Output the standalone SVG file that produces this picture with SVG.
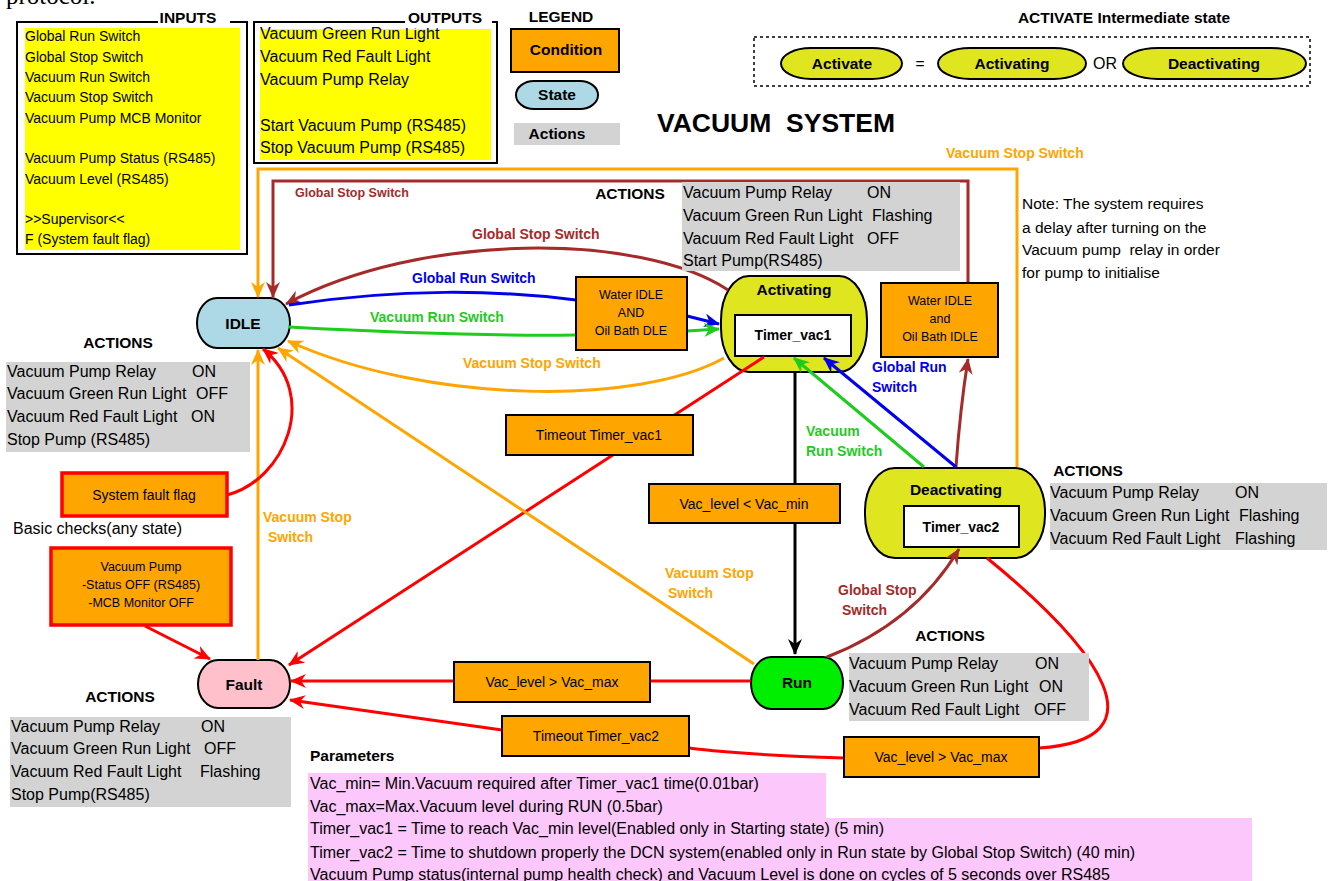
<svg xmlns="http://www.w3.org/2000/svg" width="1331" height="881" viewBox="0 0 1331 881">
<defs>
<style>
text{font-family:"Liberation Sans",Arial,sans-serif;font-size:16px;fill:#000;dominant-baseline:central;white-space:pre}
.b{font-weight:bold}
.m{text-anchor:middle}
.s14{font-size:14px}
.s12{font-size:12.5px}
.s15{font-size:15.5px}
.cond{fill:#ffa500;stroke:#000;stroke-width:2}
.rcond{fill:#ffa500;stroke:#f00;stroke-width:3.5}
.grey{fill:#d3d3d3}
.yel{fill:#ffff00}
.act{fill:#dfe51f;stroke:#000;stroke-width:2}
.inner{fill:#fff;stroke:#000;stroke-width:2}
.c{fill:none;stroke-width:3}
.br{stroke:#a52a2a}.bl{stroke:#0000ee}.gr{stroke:#1ecc1e}.or{stroke:#ffa500}.rd{stroke:#ff0000}.bk{stroke:#000}
.lbr{fill:#a52a2a}.lbl{fill:#0000ee}.lgr{fill:#1ecc1e}.lor{fill:#ffa500}
</style>
<marker id="aBr" viewBox="0 0 16 14" refX="15" refY="7" markerWidth="16" markerHeight="14" orient="auto" markerUnits="userSpaceOnUse"><path d="M0,0 L16,7 L0,14 L5,7 z" fill="#a52a2a"/></marker>
<marker id="aBl" viewBox="0 0 16 14" refX="15" refY="7" markerWidth="16" markerHeight="14" orient="auto" markerUnits="userSpaceOnUse"><path d="M0,0 L16,7 L0,14 L5,7 z" fill="#0000ee"/></marker>
<marker id="aGr" viewBox="0 0 16 14" refX="15" refY="7" markerWidth="16" markerHeight="14" orient="auto" markerUnits="userSpaceOnUse"><path d="M0,0 L16,7 L0,14 L5,7 z" fill="#1ecc1e"/></marker>
<marker id="aOr" viewBox="0 0 16 14" refX="15" refY="7" markerWidth="16" markerHeight="14" orient="auto" markerUnits="userSpaceOnUse"><path d="M0,0 L16,7 L0,14 L5,7 z" fill="#ffa500"/></marker>
<marker id="aRd" viewBox="0 0 16 14" refX="15" refY="7" markerWidth="16" markerHeight="14" orient="auto" markerUnits="userSpaceOnUse"><path d="M0,0 L16,7 L0,14 L5,7 z" fill="#ff0000"/></marker>
<marker id="aBk" viewBox="0 0 16 14" refX="15" refY="7" markerWidth="16" markerHeight="14" orient="auto" markerUnits="userSpaceOnUse"><path d="M0,0 L16,7 L0,14 L5,7 z" fill="#000"/></marker>
</defs>
<rect width="1331" height="881" fill="#fff"/>
<text x="6" y="4" style="font-family:'Liberation Serif',serif;font-size:25px;dominant-baseline:auto">protocol.</text>

<!-- INPUTS -->
<g id="inputs">
<rect x="17" y="22" width="230" height="232" fill="#fff" stroke="#000" stroke-width="2"/>
<rect class="yel" x="25" y="28" width="215" height="222"/>
<text x="25" y="36" class="s14">Global Run Switch</text>
<text x="25" y="57" class="s14">Global Stop Switch</text>
<text x="25" y="77" class="s14">Vacuum Run Switch</text>
<text x="25" y="97" class="s14">Vacuum Stop Switch</text>
<text x="25" y="118" class="s14">Vacuum Pump MCB Monitor</text>
<text x="25" y="158" class="s14">Vacuum Pump Status (RS485)</text>
<text x="25" y="179" class="s14">Vacuum Level (RS485)</text>
<text x="25" y="219" class="s14">&gt;&gt;Supervisor&lt;&lt;</text>
<text x="25" y="239" class="s14">F (System fault flag)</text>
<rect x="158" y="8" width="72" height="20" fill="#fff"/>
<text x="188" y="17" class="b m s15">INPUTS</text>
</g>

<!-- OUTPUTS -->
<g id="outputs">
<rect x="254" y="22" width="243" height="141" fill="#fff" stroke="#000" stroke-width="2"/>
<rect class="yel" x="260" y="29" width="231" height="131"/>
<text x="260" y="33">Vacuum Green Run Light</text>
<text x="260" y="56">Vacuum Red Fault Light</text>
<text x="260" y="79">Vacuum Pump Relay</text>
<text x="260" y="125">Start Vacuum Pump (RS485)</text>
<text x="260" y="147">Stop Vacuum Pump (RS485)</text>
<rect x="405" y="6" width="87" height="22" fill="#fff"/>
<text x="445" y="17" class="b m s15">OUTPUTS</text>
</g>

<!-- LEGEND -->
<g id="legend">
<text x="561" y="16" class="b m s15">LEGEND</text>
<rect class="cond" x="511" y="29" width="108" height="43"/>
<text x="566" y="49" class="b m s15">Condition</text>
<rect x="516" y="81" width="82" height="28" rx="18" ry="14" fill="#add8e6" stroke="#000" stroke-width="2"/>
<text x="557" y="94" class="b m s15">State</text>
<rect class="grey" x="514" y="123" width="106" height="22"/>
<text x="557" y="133" class="b m s15">Actions</text>
</g>

<!-- ACTIVATE intermediate state -->
<g id="activate-legend">
<text x="1124" y="17" class="b m s15">ACTIVATE Intermediate state</text>
<rect x="754" y="37" width="556" height="49" fill="none" stroke="#000" stroke-width="1.5" stroke-dasharray="3,3"/>
<rect class="act" x="781" y="48" width="121" height="31" rx="30" ry="15.5"/>
<text x="842" y="63" class="b m s15">Activate</text>
<text x="920" y="63" class="m s15">=</text>
<rect class="act" x="938" y="48" width="148" height="31" rx="32" ry="15.5"/>
<text x="1012" y="63" class="b m s15">Activating</text>
<text x="1105" y="63" class="m">OR</text>
<rect class="act" x="1123" y="48" width="183" height="31" rx="35" ry="15.5"/>
<text x="1214" y="63" class="b m s15">Deactivating</text>
</g>

<text x="776" y="123" class="b m" style="font-size:26.5px">VACUUM  SYSTEM</text>

<!-- STATES -->
<g id="idle">
<rect x="197" y="298" width="93" height="50" rx="20" ry="25" fill="#add8e6" stroke="#000" stroke-width="2"/>
<text x="243" y="323" class="b m s15">IDLE</text>
</g>
<g id="activating">
<rect class="act" x="721" y="276" width="146" height="96" rx="28" ry="44"/>
<text x="794" y="289" class="b m s15">Activating</text>
<rect class="inner" x="735" y="315" width="116" height="41"/>
<text x="793" y="335" class="b m s14">Timer_vac1</text>
</g>
<g id="deactivating">
<rect class="act" x="865" y="468" width="180" height="90" rx="30" ry="43"/>
<text x="956" y="489" class="b m s15">Deactivating</text>
<rect class="inner" x="904" y="506" width="115" height="41"/>
<text x="961" y="527" class="b m s14">Timer_vac2</text>
</g>
<g id="run">
<rect x="751" y="657" width="92" height="52" rx="20" ry="26" fill="#00ee00" stroke="#000" stroke-width="2"/>
<text x="797" y="682" class="b m s15">Run</text>
</g>
<g id="fault">
<rect x="198" y="660" width="92" height="48" rx="20" ry="24" fill="#ffc0cb" stroke="#000" stroke-width="2"/>
<text x="244" y="684" class="b m s15">Fault</text>
</g>

<!-- CONNECTORS -->
<g id="connectors">
<path class="c br" d="M968,284 V181 H273 V297" marker-end="url(#aBr)"/>
<path class="c or" d="M1017,467 V169 H258 V297" marker-end="url(#aOr)"/>
<path class="c br" d="M728,290 C640,232 420,232 286,304" marker-end="url(#aBr)"/>
<path class="c bl" d="M289,305 C400,288 500,290 576,300"/>
<path class="c bl" d="M687,316 L719,324" marker-end="url(#aBl)"/>
<path class="c gr" d="M289,327 C400,333 500,336 576,335"/>
<path class="c gr" d="M687,331 L719,329" marker-end="url(#aGr)"/>
<path class="c or" d="M724,358 C640,405 430,405 288,341" marker-end="url(#aOr)"/>
<path class="c rd" d="M764,357 L289,665" marker-end="url(#aRd)"/>
<path class="c or" d="M754,664 L278,348" marker-end="url(#aOr)"/>
<path class="c bk" d="M795,372 V654" marker-end="url(#aBk)"/>
<path class="c or" d="M258,660 V350" marker-end="url(#aOr)"/>
<path class="c rd" d="M227,495 C285,480 320,395 263,349" marker-end="url(#aRd)"/>
<path class="c rd" d="M145,626 L210,659" marker-end="url(#aRd)"/>
<path class="c rd" d="M751,681 H291" marker-end="url(#aRd)"/>
<path class="c rd" d="M987,558 C1100,650 1165,740 1039,748"/>
<path class="c rd" d="M844,758 C780,756 720,752 689,748"/>
<path class="c rd" d="M502,730 L290,700" marker-end="url(#aRd)"/>
<path class="c br" d="M956,467 Q960,410 968,359" marker-end="url(#aBr)"/>
<path class="c bl" d="M956,467 L824,358" marker-end="url(#aBl)"/>
<path class="c gr" d="M924,467 L794,358" marker-end="url(#aGr)"/>
<path class="c br" d="M827,657 Q915,623 959,549" marker-end="url(#aBr)"/>
</g>

<g id="connector-labels">
<text x="295" y="193" class="b lbr s12">Global Stop Switch</text>
<text x="946" y="153" class="b lor s14">Vacuum Stop Switch</text>
<text x="472" y="234" class="b lbr s14">Global Stop Switch</text>
<text x="412" y="278" class="b lbl s14">Global Run Switch</text>
<text x="370" y="317" class="b lgr s14">Vacuum Run Switch</text>
<text x="463" y="363" class="b lor s14">Vacuum Stop Switch</text>
<text x="872" y="367" class="b lbl s14">Global Run</text>
<text x="872" y="387" class="b lbl s14">Switch</text>
<text x="806" y="431" class="b lgr s14">Vacuum</text>
<text x="806" y="451" class="b lgr s14">Run Switch</text>
<text x="263" y="517" class="b lor s14">Vacuum Stop</text>
<text x="268" y="537" class="b lor s14">Switch</text>
<text x="665" y="573" class="b lor s14">Vacuum Stop</text>
<text x="668" y="593" class="b lor s14">Switch</text>
<text x="838" y="590" class="b lbr s14">Global Stop</text>
<text x="842" y="610" class="b lbr s14">Switch</text>
</g>

<!-- CONDITIONS -->
<g id="cond-water-oil-dle">
<rect class="cond" x="576" y="277" width="111" height="73"/>
<text x="631" y="295" class="m s12">Water IDLE</text>
<text x="631" y="313" class="m s12">AND</text>
<text x="631" y="331" class="m s12">Oil Bath DLE</text>
</g>
<g id="cond-water-oil-idle">
<rect class="cond" x="881" y="283" width="117" height="74"/>
<text x="940" y="301" class="m s12">Water IDLE</text>
<text x="940" y="319" class="m s12">and</text>
<text x="940" y="337" class="m s12">Oil Bath IDLE</text>
</g>
<g id="cond-timeout1">
<rect class="cond" x="506" y="415" width="187" height="40"/>
<text x="599" y="435" class="m s14">Timeout Timer_vac1</text>
</g>
<g id="cond-vacmin">
<rect class="cond" x="649" y="484" width="191" height="39"/>
<text x="744" y="504" class="m s14">Vac_level &lt; Vac_min</text>
</g>
<g id="cond-vacmax-run">
<rect class="cond" x="454" y="662" width="196" height="40"/>
<text x="552" y="682" class="m s14">Vac_level &gt; Vac_max</text>
</g>
<g id="cond-timeout2">
<rect class="cond" x="502" y="716" width="187" height="40"/>
<text x="596" y="736" class="m s14">Timeout Timer_vac2</text>
</g>
<g id="cond-vacmax-deact">
<rect class="cond" x="844" y="737" width="195" height="40"/>
<text x="941" y="757" class="m s14">Vac_level &gt; Vac_max</text>
</g>
<g id="cond-fault-flag">
<rect class="rcond" x="62" y="473" width="165" height="43"/>
<text x="144" y="495" class="m s14">System fault flag</text>
</g>
<g id="cond-pump">
<rect class="rcond" x="51" y="548" width="180" height="77"/>
<text x="141" y="567" class="m s12">Vacuum Pump</text>
<text x="141" y="585" class="m s12">-Status OFF (RS485)</text>
<text x="141" y="603" class="m s12">-MCB Monitor OFF</text>
</g>
<text x="13" y="528">Basic checks(any state)</text>

<!-- ACTIONS -->
<g id="actions-activating">
<text x="630" y="193" class="b m s15">ACTIONS</text>
<rect class="grey" x="682" y="182" width="278" height="89"/>
<text x="683" y="192">Vacuum Pump Relay</text><text x="867" y="192">ON</text>
<text x="683" y="215">Vacuum Green Run Light</text><text x="872" y="215">Flashing</text>
<text x="683" y="238">Vacuum Red Fault Light</text><text x="867" y="238">OFF</text>
<text x="683" y="260">Start Pump(RS485)</text>
</g>
<g id="actions-idle">
<text x="118" y="342" class="b m s15">ACTIONS</text>
<rect class="grey" x="6" y="362" width="244" height="90"/>
<text x="7" y="371">Vacuum Pump Relay</text><text x="192" y="371">ON</text>
<text x="7" y="393">Vacuum Green Run Light</text><text x="196" y="393">OFF</text>
<text x="7" y="416">Vacuum Red Fault Light</text><text x="191" y="416">ON</text>
<text x="7" y="439">Stop Pump (RS485)</text>
</g>
<g id="actions-fault">
<text x="120" y="696" class="b m s15">ACTIONS</text>
<rect class="grey" x="10" y="717" width="281" height="90"/>
<text x="11" y="726">Vacuum Pump Relay</text><text x="201" y="726">ON</text>
<text x="11" y="748">Vacuum Green Run Light</text><text x="204" y="748">OFF</text>
<text x="11" y="771">Vacuum Red Fault Light</text><text x="200" y="771">Flashing</text>
<text x="11" y="794">Stop Pump(RS485)</text>
</g>
<g id="actions-deactivating">
<text x="1088" y="470" class="b m s15">ACTIONS</text>
<rect class="grey" x="1050" y="483" width="277" height="67"/>
<text x="1050" y="492">Vacuum Pump Relay</text><text x="1235" y="492">ON</text>
<text x="1050" y="515">Vacuum Green Run Light</text><text x="1239" y="515">Flashing</text>
<text x="1050" y="538">Vacuum Red Fault Light</text><text x="1235" y="538">Flashing</text>
</g>
<g id="actions-run">
<text x="950" y="635" class="b m s15">ACTIONS</text>
<rect class="grey" x="849" y="653" width="240" height="68"/>
<text x="849" y="663">Vacuum Pump Relay</text><text x="1035" y="663">ON</text>
<text x="849" y="686">Vacuum Green Run Light</text><text x="1039" y="686">ON</text>
<text x="849" y="709">Vacuum Red Fault Light</text><text x="1034" y="709">OFF</text>
</g>

<g id="note">
<text x="1022" y="203" style="font-size:15.5px">Note: The system requires</text>
<text x="1022" y="227" style="font-size:15.5px">a delay after turning on the</text>
<text x="1022" y="249" style="font-size:15.5px">Vacuum pump  relay in order</text>
<text x="1022" y="272" style="font-size:15.5px">for pump to initialise</text>
</g>

<g id="parameters">
<text x="310" y="755" class="b s15">Parameters</text>
<rect x="308" y="773" width="518" height="45" fill="#fcc8fc"/>
<rect x="308" y="818" width="944" height="63" fill="#fcc8fc"/>
<text x="310" y="783">Vac_min= Min.Vacuum required after Timer_vac1 time(0.01bar)</text>
<text x="310" y="806">Vac_max=Max.Vacuum level during RUN (0.5bar)</text>
<text x="310" y="828">Timer_vac1 = Time to reach Vac_min level(Enabled only in Starting state) (5 min)</text>
<text x="310" y="852">Timer_vac2 = Time to shutdown properly the DCN system(enabled only in Run state by Global Stop Switch) (40 min)</text>
<text x="310" y="874">Vacuum Pump status(internal pump health check) and Vacuum Level is done on cycles of 5 seconds over RS485</text>
</g>
</svg>
